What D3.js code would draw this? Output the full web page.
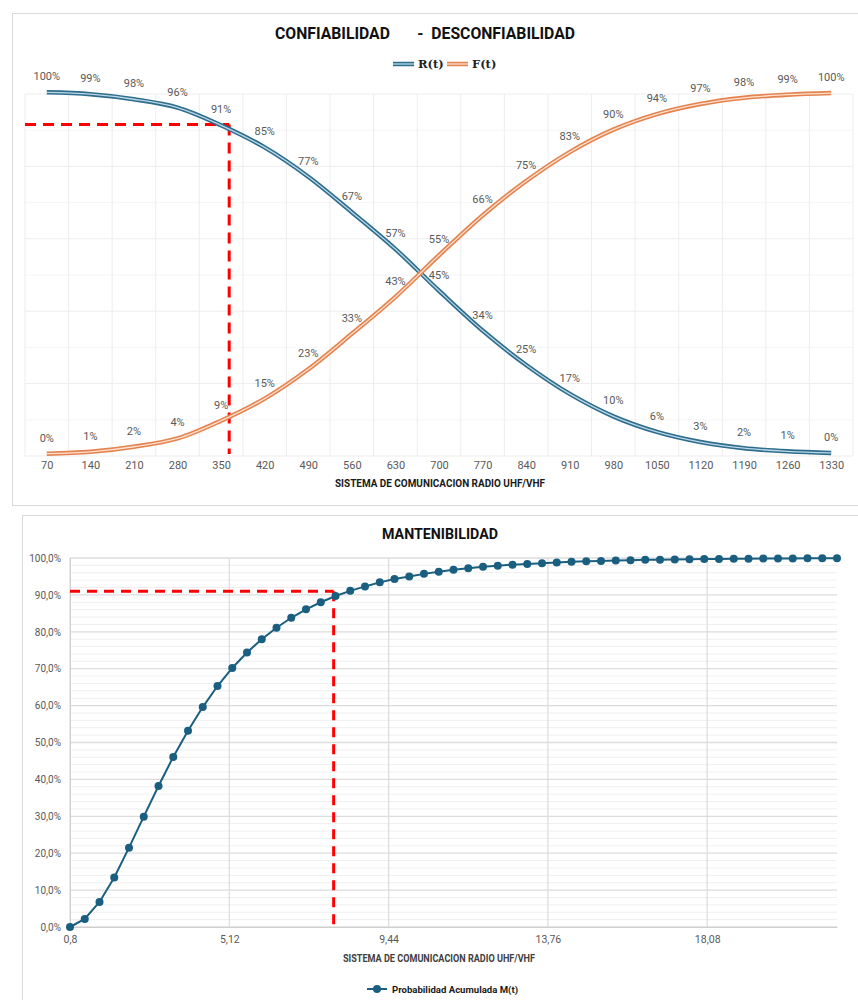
<!DOCTYPE html>
<html>
<head>
<meta charset="utf-8">
<script src="https://cdn.jsdelivr.net/npm/d3@7"></script>
<style>
  html, body { margin: 0; padding: 0; background: #ffffff; }
  svg { display: block; }
  text { font-family: Roboto, "Liberation Sans", Arial, sans-serif; }
</style>
</head>
<body>
<svg id="chart" width="858" height="1000"></svg>
<script>
// ---- Reliability / unreliability (top chart) ----
const hours = [70, 140, 210, 280, 350, 420, 490, 560, 630, 700, 770, 840, 910, 980, 1050, 1120, 1190, 1260, 1330];
const reliability   = [0.999, 0.994, 0.980, 0.957, 0.908, 0.847, 0.766, 0.668, 0.566, 0.451,
                       0.341, 0.246, 0.166, 0.104, 0.061, 0.033, 0.016, 0.0074, 0.003];
const unreliability = [0.001, 0.006, 0.020, 0.043, 0.092, 0.153, 0.234, 0.332, 0.434, 0.549,
                       0.659, 0.754, 0.834, 0.896, 0.939, 0.967, 0.984, 0.9926, 0.997];
const reliabilityMark = { t: 363, value: 0.91 };

// ---- Maintainability (bottom chart) ----
const repairTimes = d3.range(53).map(i => +(0.8 + i * 0.4).toFixed(1));
const maintainability = [
  0.000, 0.022, 0.068, 0.134, 0.215, 0.299, 0.382, 0.461, 0.532, 0.596,
  0.653, 0.702, 0.744, 0.780, 0.811, 0.838, 0.861, 0.880, 0.897, 0.911,
  0.923, 0.934, 0.943, 0.950, 0.957, 0.963, 0.968, 0.972, 0.976, 0.979,
  0.982, 0.984, 0.986, 0.988, 0.990, 0.991, 0.992, 0.993, 0.994, 0.995,
  0.9955, 0.996, 0.9965, 0.997, 0.9975, 0.9978, 0.9981, 0.9984, 0.9986, 0.9988,
  0.999, 0.9992, 0.9993
];
const maintTicks = [0.8, 5.12, 9.44, 13.76, 18.08];
const maintainabilityMark = { t: 7.95, value: 0.91 };

const svg = d3.select("#chart");
const gridMajor = "#ededed", gridMinor = "#f5f5f5", labelGray = "#595959";

// ======================= TOP CHART =======================
const relChart = svg.append("g");
relChart.append("rect").attr("x", 12.5).attr("y", 13.5).attr("width", 850).attr("height", 492)
  .attr("fill", "#fff").attr("stroke", "#d9d9d9");

const xPt = d3.scalePoint().domain(hours).range([25, 853]).padding(0.5);
const xBand = d3.scaleBand().domain(hours).range([25, 853]).padding(0);
const xTime = d3.scaleLinear().domain([hours[0], hours[hours.length - 1]])
  .range([xPt(hours[0]), xPt(hours[hours.length - 1])]);
const yTop = d3.scaleLinear().domain([0, 1]).range([454, 92]);

// faint grid
const topGrid = relChart.append("g");
topGrid.selectAll("line.h").data(d3.range(0, 1.001, 0.1)).join("line")
  .attr("x1", 25).attr("x2", 853)
  .attr("y1", d => yTop(d) + 2).attr("y2", d => yTop(d) + 2)
  .attr("stroke", (d, i) => i % 2 === 0 ? gridMajor : gridMinor).attr("stroke-width", 1);
topGrid.selectAll("line.v").data(hours).join("line")
  .attr("x1", d => xBand(d) + xBand.bandwidth())
  .attr("x2", d => xBand(d) + xBand.bandwidth())
  .attr("y1", yTop(1) + 2).attr("y2", yTop(0) + 2)
  .attr("stroke", gridMajor);
topGrid.append("line").attr("x1", 25).attr("x2", 25)
  .attr("y1", yTop(1) + 2).attr("y2", yTop(0) + 2).attr("stroke", gridMajor);

// x axis tick labels
const xAxisTop = d3.axisBottom(xPt).tickSize(0).tickPadding(0);
const gxTop = relChart.append("g").attr("transform", "translate(0,461)").call(xAxisTop);
gxTop.select(".domain").remove();
gxTop.selectAll("text").attr("fill", labelGray).attr("font-size", 11).attr("dy", "0.71em");

relChart.append("text").attr("x", 440).attr("y", 487).attr("text-anchor", "middle")
  .attr("font-size", 10).attr("font-weight", "bold").attr("fill", "#1a1a1a")
  .attr("textLength", 210).attr("lengthAdjust", "spacingAndGlyphs")
  .text("SISTEMA DE COMUNICACION RADIO UHF/VHF");

// title
relChart.append("text").attr("x", 425).attr("y", 39).attr("text-anchor", "middle")
  .attr("font-size", 16).attr("font-weight", "bold").attr("fill", "#111")
  .style("white-space", "pre")
  .attr("textLength", 300).attr("lengthAdjust", "spacingAndGlyphs")
  .text("CONFIABILIDAD       -  DESCONFIABILIDAD");

// double-line series
const series = [
  { name: "R(t)", values: reliability,   outer: "#2f6d8c", inner: "#b9d8e8" },
  { name: "F(t)", values: unreliability, outer: "#e5834f", inner: "#fbe0cf" }
];
const lineTop = d3.line().x((d, i) => xPt(hours[i])).y(d => yTop(d)).curve(d3.curveCatmullRom.alpha(0.5));

// reference crossing at R(t) ~ 91 %
const markTop = relChart.append("g").attr("stroke", "#ff0000").attr("stroke-width", 3)
  .attr("stroke-dasharray", "11,7").attr("fill", "none");
markTop.append("line").attr("x1", 25).attr("x2", xTime(reliabilityMark.t))
  .attr("y1", yTop(reliabilityMark.value)).attr("y2", yTop(reliabilityMark.value));
markTop.append("line").attr("x1", xTime(reliabilityMark.t)).attr("x2", xTime(reliabilityMark.t))
  .attr("y1", yTop(reliabilityMark.value)).attr("y2", yTop(0));

series.forEach(s => {
  relChart.append("path").datum(s.values).attr("d", lineTop)
    .attr("fill", "none").attr("stroke", s.outer).attr("stroke-width", 4.5);
  relChart.append("path").datum(s.values).attr("d", lineTop)
    .attr("fill", "none").attr("stroke", s.inner).attr("stroke-width", 1.3);
});

// data labels
const pct = d3.format(".0%");
series.forEach(s => {
  relChart.append("g").selectAll("text").data(s.values).join("text")
    .attr("x", (d, i) => xPt(hours[i]))
    .attr("y", d => yTop(d) - 12)
    .attr("text-anchor", "middle").attr("font-size", 11).attr("fill", labelGray)
    .text(d => pct(d));
});

// legend
const legTop = relChart.append("g").attr("transform", "translate(393,64)");
series.forEach((s, i) => {
  const g = legTop.append("g").attr("transform", `translate(${i * 54},0)`);
  g.append("line").attr("x1", 0).attr("x2", 21).attr("stroke", s.outer).attr("stroke-width", 4.5);
  g.append("line").attr("x1", 0).attr("x2", 21).attr("stroke", s.inner).attr("stroke-width", 1.3);
  g.append("text").attr("x", 25).attr("y", 4).attr("font-size", 11.5).attr("font-weight", "bold")
    .style("font-family", "'DejaVu Serif', 'Liberation Serif', serif").attr("fill", "#222")
    .text(s.name);
});

// ======================= BOTTOM CHART =======================
const maintChart = svg.append("g");
maintChart.append("rect").attr("x", 22.5).attr("y", 515.5).attr("width", 850).attr("height", 500)
  .attr("fill", "#fff").attr("stroke", "#d9d9d9");

const xM = d3.scaleLinear().domain([0.8, 21.6]).range([70, 837]);
const yM = d3.scaleLinear().domain([0, 1]).range([927, 558]);

// minor / major horizontal grid
maintChart.append("g").selectAll("line").data(d3.range(0, 51).map(i => i / 50)).join("line")
  .attr("x1", 70).attr("x2", 837)
  .attr("y1", d => yM(d)).attr("y2", d => yM(d))
  .attr("stroke", (d, i) => i % 5 === 0 ? "#dcdcdc" : "#efefef")
  .attr("stroke-width", (d, i) => i % 5 === 0 ? 1.3 : 1);
// vertical grid
maintChart.append("g").selectAll("line").data(maintTicks).join("line")
  .attr("x1", d => xM(d)).attr("x2", d => xM(d))
  .attr("y1", yM(1)).attr("y2", yM(0))
  .attr("stroke", "#dcdcdc").attr("stroke-width", 1.2);

// axes
const locale = d3.formatLocale({ decimal: ",", thousands: ".", grouping: [3], currency: ["", ""] });
const pct1 = locale.format(".1%");
const yAxisM = d3.axisLeft(yM).tickValues(d3.range(0, 1.0001, 0.1)).tickFormat(pct1).tickSize(0).tickPadding(9);
const gyM = maintChart.append("g").attr("transform", "translate(70,0)").call(yAxisM);
gyM.select(".domain").attr("stroke", "#cfcfcf");
gyM.selectAll("text").attr("fill", labelGray).attr("font-size", 10);

const xAxisM = d3.axisBottom(xM).tickValues(maintTicks)
  .tickFormat(d => String(d).replace(".", ",")).tickSize(0).tickPadding(9);
const gxM = maintChart.append("g").attr("transform", "translate(0,927)").call(xAxisM);
gxM.select(".domain").attr("stroke", "#cfcfcf");
gxM.selectAll("text").attr("fill", labelGray).attr("font-size", 10.5);

maintChart.append("text").attr("x", 439).attr("y", 962).attr("text-anchor", "middle")
  .attr("font-size", 10).attr("font-weight", "bold").attr("fill", "#404040")
  .attr("textLength", 192).attr("lengthAdjust", "spacingAndGlyphs")
  .text("SISTEMA DE COMUNICACION RADIO UHF/VHF");

maintChart.append("text").attr("x", 440).attr("y", 539).attr("text-anchor", "middle")
  .attr("font-size", 14.5).attr("font-weight", "bold").attr("fill", "#111")
  .attr("textLength", 116).attr("lengthAdjust", "spacingAndGlyphs")
  .text("MANTENIBILIDAD");

// reference marker at M(t) ~ 91 %
const markM = maintChart.append("g").attr("stroke", "#ff0000").attr("stroke-width", 3)
  .attr("stroke-dasharray", "10,7").attr("fill", "none");
markM.append("line").attr("x1", 70).attr("x2", xM(maintainabilityMark.t))
  .attr("y1", yM(maintainabilityMark.value)).attr("y2", yM(maintainabilityMark.value));
markM.append("line").attr("x1", xM(maintainabilityMark.t)).attr("x2", xM(maintainabilityMark.t))
  .attr("y1", yM(maintainabilityMark.value)).attr("y2", yM(0));

// series
const mColor = "#1b5f80";
const lineM = d3.line().x((d, i) => xM(repairTimes[i])).y(d => yM(d));
maintChart.append("path").datum(maintainability).attr("d", lineM)
  .attr("fill", "none").attr("stroke", mColor).attr("stroke-width", 2);
maintChart.append("g").selectAll("circle").data(maintainability).join("circle")
  .attr("cx", (d, i) => xM(repairTimes[i])).attr("cy", d => yM(d)).attr("r", 4)
  .attr("fill", mColor);

// legend
const legM = maintChart.append("g").attr("transform", "translate(367,989)");
legM.append("line").attr("x1", 0).attr("x2", 20).attr("stroke", mColor).attr("stroke-width", 2);
legM.append("circle").attr("cx", 10).attr("cy", 0).attr("r", 4).attr("fill", mColor);
legM.append("text").attr("x", 25).attr("y", 3.5).attr("font-size", 9.5).attr("font-weight", "bold")
  .attr("fill", "#1a1a1a").attr("textLength", 126).attr("lengthAdjust", "spacingAndGlyphs")
  .text("Probabilidad Acumulada M(t)");
</script>
</body>
</html>
